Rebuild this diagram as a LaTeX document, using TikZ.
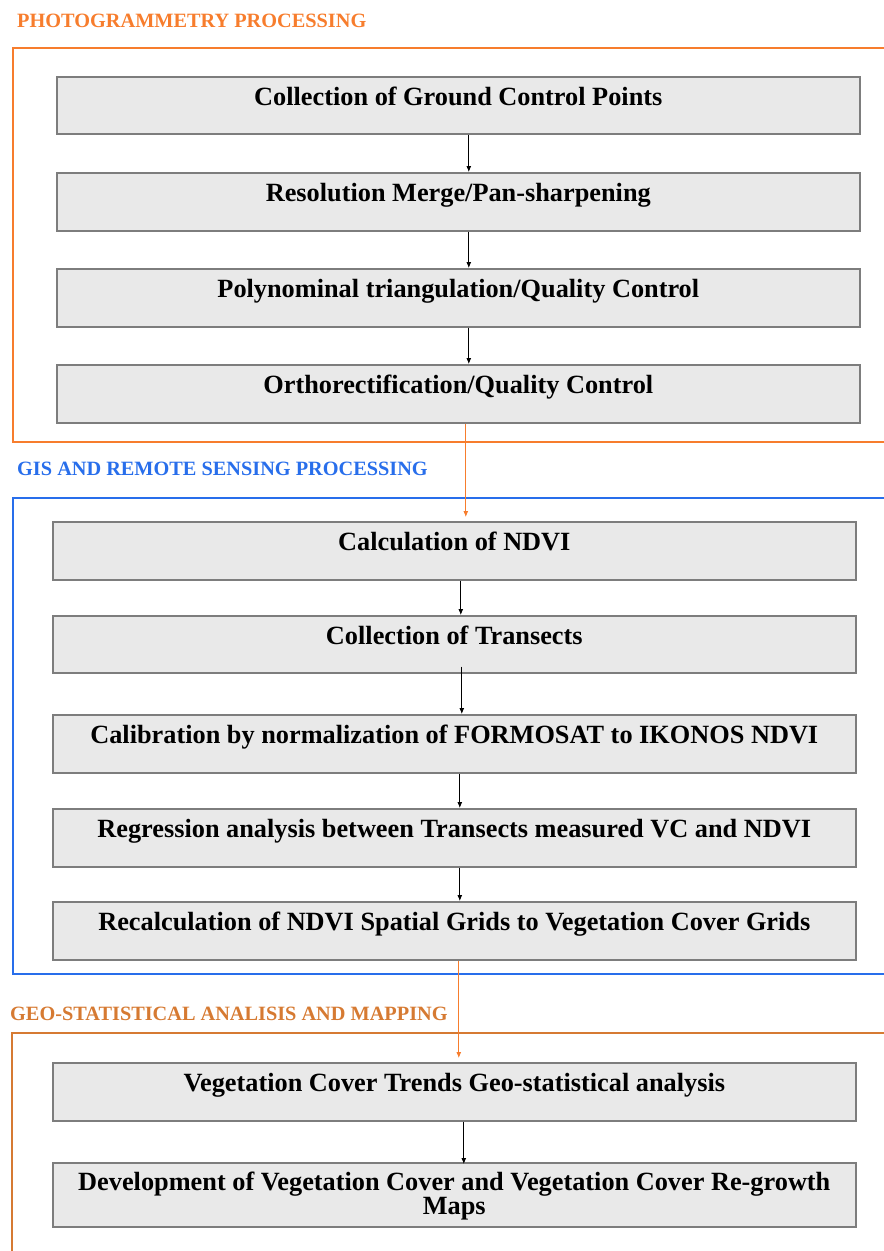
\documentclass[tikz,border=0pt]{standalone}
\usepackage{fontspec}
\setmainfont{Liberation Serif}
\usetikzlibrary{arrows.meta}
\definecolor{orA}{RGB}{247,125,45}
\definecolor{orB}{RGB}{214,122,50}
\definecolor{blA}{RGB}{40,110,235}
\definecolor{boxfill}{RGB}{233,233,233}
\definecolor{boxline}{RGB}{125,125,125}
\tikzset{
  stepbox/.style={draw=boxline, line width=1.6pt, fill=boxfill, inner sep=0pt,
    font=\bfseries\fontsize{26.3}{21.5}\selectfont, align=center, anchor=north west,
    text height=16pt, text depth=16pt},
  twoline/.style={text height=, text depth=},
  frametitle/.style={font=\bfseries\fontsize{20.3}{22}\selectfont, anchor=west, inner sep=0pt},
  arr/.style={draw=black, line width=0.8pt, -{Latex[length=6pt,width=5pt]}},
  oarr/.style={draw=orA, line width=0.8pt, -{Latex[length=6pt,width=5pt]}},
}
\begin{document}
\begin{tikzpicture}[x=1pt,y=-1pt]
\useasboundingbox (0,0) rectangle (884,1251);
\begin{scope}
\clip (0,0) rectangle (884,1251);
% frames
\draw[orA, line width=2.2pt] (892,48) -- (13,48) -- (13,442) -- (892,442);
\draw[blA, line width=2.2pt] (892,498) -- (13,498) -- (13,974) -- (892,974);
\draw[orB, line width=2.2pt] (892,1033) -- (12,1033) -- (12,1260);
\end{scope}
% titles
\node[frametitle, text=orA] (t1) at (17,21) {PHOTOGRAMMETRY PROCESSING};
\node[frametitle, text=blA] (t2) at (17,469) {GIS AND REMOTE SENSING PROCESSING};
\node[frametitle, text=orB] (t3) at (10,1014) {GEO-STATISTICAL ANALISIS AND MAPPING};
% boxes section 1
\node[stepbox, minimum width=803pt, minimum height=57pt] (b1) at (56,76) {Collection of Ground Control Points};
\node[stepbox, minimum width=803pt, minimum height=58pt] (b2) at (56,172) {Resolution Merge/Pan-sharpening};
\node[stepbox, minimum width=803pt, minimum height=58pt] (b3) at (56,268) {Polynominal triangulation/Quality Control};
\node[stepbox, minimum width=803pt, minimum height=58pt] (b4) at (56,364) {Orthorectification/Quality Control};
% boxes section 2
\node[stepbox, minimum width=803pt, minimum height=58pt] (b5) at (52,521) {Calculation of NDVI};
\node[stepbox, minimum width=803pt, minimum height=57pt] (b6) at (52,615) {Collection of Transects};
\node[stepbox, minimum width=803pt, minimum height=58pt] (b7) at (52,714) {Calibration by normalization of FORMOSAT to IKONOS NDVI};
\node[stepbox, minimum width=803pt, minimum height=58pt] (b8) at (52,808) {Regression analysis between Transects measured VC and NDVI};
\node[stepbox, minimum width=803pt, minimum height=58pt] (b9) at (52,901) {Recalculation of NDVI Spatial Grids to Vegetation Cover Grids};
% boxes section 3
\node[stepbox, minimum width=803pt, minimum height=58pt] (b10) at (52,1062) {Vegetation Cover Trends Geo-statistical analysis};
\node[stepbox, twoline, minimum width=803pt, minimum height=64pt] (b11) at (52,1162) {\rule{0pt}{20pt}Development of Vegetation Cover and Vegetation Cover Re-growth\\Maps};
% arrows
\draw[arr] ([xshift=10.5pt]b1.south) -- ([xshift=10.5pt]b2.north);
\draw[arr] ([xshift=10.5pt]b2.south) -- ([xshift=10.5pt]b3.north);
\draw[arr] ([xshift=10.5pt]b3.south) -- ([xshift=10.5pt]b4.north);
\draw[oarr] ([xshift=7.5pt]b4.south) -- ([xshift=11.5pt,yshift=4pt]b5.north);
\draw[arr] ([xshift=6.5pt]b5.south) -- ([xshift=6.5pt]b6.north);
\draw[arr] ([xshift=7.5pt,yshift=7pt]b6.south) -- ([xshift=7.5pt]b7.north);
\draw[arr] ([xshift=5.5pt]b7.south) -- ([xshift=5.5pt]b8.north);
\draw[arr] ([xshift=5.5pt]b8.south) -- ([xshift=5.5pt]b9.north);
\draw[oarr] ([xshift=4.5pt]b9.south) -- ([xshift=4.5pt,yshift=4pt]b10.north);
\draw[arr] ([xshift=9.5pt]b10.south) -- ([xshift=9.5pt,yshift=-2pt]b11.north);
\end{tikzpicture}
\end{document}
